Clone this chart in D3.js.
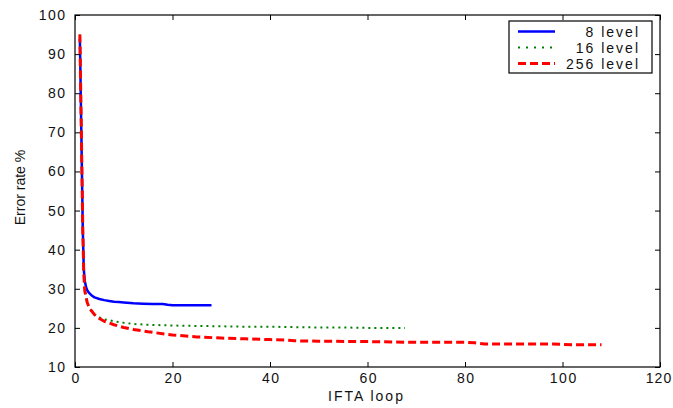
<!DOCTYPE html>
<html>
<head>
<meta charset="utf-8">
<script src="https://cdn.jsdelivr.net/npm/d3@7"></script>
<style>
  body { margin: 0; background: #fff; }
  text { font-family: "Liberation Sans", Arial, sans-serif; font-size: 14px; fill: #111; }
</style>
</head>
<body>
<div id="wrapper"></div>
<script>
// data
const level8X  = [1, 1.3, 1.6, 1.8, 2, 2.3, 2.6, 3, 3.5, 4, 5, 6, 7, 8, 9, 10, 12, 14, 16, 18, 19, 20, 22, 24, 26, 28]
const level8Y  = [94, 70, 45, 35, 32, 30.3, 29.4, 28.8, 28.2, 27.8, 27.4, 27.1, 26.9, 26.7, 26.6, 26.5, 26.3, 26.2, 26.1, 26.1, 25.9, 25.8, 25.8, 25.8, 25.8, 25.8]

const level16X = [1, 1.3, 1.6, 1.8, 2, 2.5, 3, 4, 5, 6, 8, 10, 12, 15, 20, 25, 30, 35, 40, 45, 50, 55, 60, 65, 67.7]
const level16Y = [95, 70, 45, 34, 30, 26.5, 24.8, 23.4, 22.7, 22.2, 21.7, 21.3, 21.0, 20.8, 20.6, 20.5, 20.4, 20.3, 20.3, 20.2, 20.1, 20.1, 20.0, 20.0, 20.0]

const level256X = [1, 1.3, 1.6, 1.8, 2, 2.5, 3, 4, 5, 6, 8, 10, 12, 15, 20, 25, 30, 35, 40, 43, 45, 50, 60, 70, 80, 82, 84, 90, 98, 100, 102, 108]
const level256Y = [95, 70, 45, 34, 29.5, 26.5, 25, 23.4, 22.4, 21.7, 20.8, 20.1, 19.6, 19.0, 18.2, 17.7, 17.4, 17.2, 17.0, 16.9, 16.7, 16.6, 16.5, 16.3, 16.3, 16.2, 15.9, 15.9, 15.9, 15.8, 15.7, 15.7]

const xTicks = [0, 20, 40, 60, 80, 100, 120]
const yTicks = [10, 20, 30, 40, 50, 60, 70, 80, 90, 100]

const seriesNames = ["8 level", "16 level", "256 level"]
const seriesColors = ["#0000ff", "#008000", "#ff0000"]
const seriesDash = [null, "2,4", "8,4"]

const series = [
    {x: level8X, y: level8Y},
    {x: level16X, y: level16Y},
    {x: level256X, y: level256Y},
].map((s, i) => ({
    name: seriesNames[i],
    color: seriesColors[i],
    dash: seriesDash[i],
    points: s.x.map((x, j) => [x, s.y[j]]),
}))

// dimensions
const width = 673
const height = 408
const margin = {top: 15, right: 13, bottom: 41, left: 75}
const boundedWidth = width - margin.left - margin.right
const boundedHeight = height - margin.top - margin.bottom

const svg = d3.select("#wrapper")
    .append("svg")
    .attr("width", width)
    .attr("height", height)

const bounds = svg.append("g")
    .attr("transform", `translate(${margin.left},${margin.top})`)

// scales
const xScale = d3.scaleLinear().domain([0, 120]).range([0, boundedWidth])
const yScale = d3.scaleLinear().domain([10, 100]).range([boundedHeight, 0])

// lines
const lineGenerator = d3.line()
    .x(d => xScale(d[0]))
    .y(d => yScale(d[1]))

const strokeWidth = name => name === "16 level" ? 2 : (name === "256 level" ? 3 : 2.5)

bounds.selectAll(".series")
    .data(series)
    .join("path")
    .attr("class", "series")
    .attr("d", d => lineGenerator(d.points))
    .attr("fill", "none")
    .attr("stroke", d => d.color)
    .attr("stroke-width", d => strokeWidth(d.name))
    .attr("stroke-dasharray", d => d.dash)
    .attr("stroke-linejoin", "round")

// axes, ticks pointing inward on all sides
const tickLen = 5
const labelSpacing = 1.5
const xAxisBottom = d3.axisBottom(xScale).tickValues(xTicks).tickSizeInner(-tickLen).tickSizeOuter(0).tickPadding(6)
const xAxisTop = d3.axisTop(xScale).tickValues(xTicks).tickSizeInner(-tickLen).tickSizeOuter(0).tickFormat("")
const yAxisLeft = d3.axisLeft(yScale).tickValues(yTicks).tickSizeInner(-tickLen).tickSizeOuter(0).tickPadding(10 - labelSpacing)
const yAxisRight = d3.axisRight(yScale).tickValues(yTicks).tickSizeInner(-tickLen).tickSizeOuter(0).tickFormat("")

const xAxisGroup = bounds.append("g").attr("transform", `translate(0,${boundedHeight})`).call(xAxisBottom)
const yAxisGroup = bounds.append("g").call(yAxisLeft)
const axes = [
    xAxisGroup,
    bounds.append("g").call(xAxisTop),
    yAxisGroup,
    bounds.append("g").attr("transform", `translate(${boundedWidth},0)`).call(yAxisRight),
]
axes.forEach(a => {
    a.select(".domain").remove()
    a.selectAll("line").attr("stroke", "#000")
    a.selectAll("text")
        .style("font-family", "'Liberation Sans', Arial, sans-serif")
        .style("font-size", "14px")
        .style("letter-spacing", `${labelSpacing}px`)
        .attr("fill", "#111")
})
xAxisGroup.selectAll("text").attr("dx", labelSpacing / 2)
// last label sits at the window edge: tighten it so it stays inside
xAxisGroup.selectAll(".tick text")
    .filter(d => d === 120)
    .attr("dx", -1.5)
    .style("letter-spacing", "1px")

bounds.append("rect")
    .attr("width", boundedWidth)
    .attr("height", boundedHeight)
    .attr("fill", "none")
    .attr("stroke", "#000")
    .attr("stroke-width", 1.2)

// axis labels
svg.append("text")
    .attr("x", margin.left + boundedWidth / 2 - 1)
    .attr("y", 401)
    .attr("text-anchor", "middle")
    .style("letter-spacing", "2px")
    .text("IFTA loop")

svg.append("text")
    .attr("transform", `translate(25,187.5) rotate(-90)`)
    .attr("text-anchor", "middle")
    .text("Error rate %")

// legend
const legend = svg.append("g").attr("transform", "translate(509,21)")
legend.append("rect")
    .attr("width", 143)
    .attr("height", 52)
    .attr("fill", "#fff")
    .attr("stroke", "#000")
    .attr("stroke-width", 1.2)

const legendRows = legend.selectAll(".legend-row")
    .data(series)
    .join("g")
    .attr("class", "legend-row")
    .attr("transform", (d, i) => `translate(0,${10.5 + i * 16})`)

legendRows.append("line")
    .attr("x1", 9).attr("x2", 46)
    .attr("stroke", d => d.color)
    .attr("stroke-width", d => strokeWidth(d.name))
    .attr("stroke-dasharray", d => d.name === "16 level" ? "2,6" : d.dash)

legendRows.append("text")
    .attr("x", 131)
    .attr("y", 5)
    .attr("text-anchor", "end")
    .style("letter-spacing", "2px")
    .text(d => d.name)
</script>
</body>
</html>
